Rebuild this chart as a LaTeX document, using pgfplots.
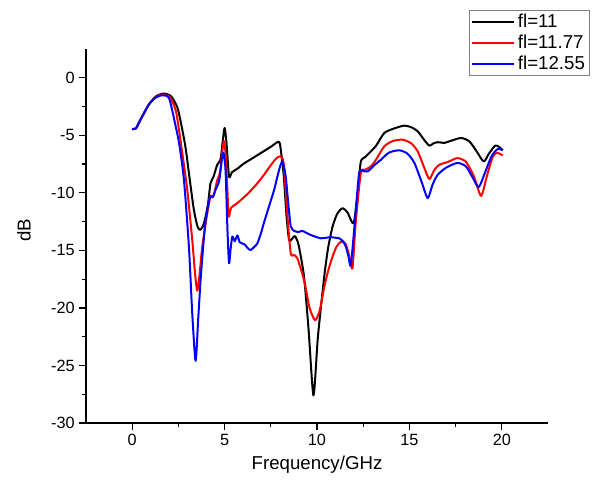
\documentclass[border=0pt]{standalone}
\usepackage{fontspec}
\setmainfont{Liberation Sans}
\usepackage{pgfplots}
\pgfplotsset{compat=1.18}

\begin{document}
\begin{tikzpicture}[x=1pt,y=1pt]
\begin{axis}[
    name=ax,
    scale only axis,
    width=346.5pt, height=280.5pt,
    xmin=-2.5, xmax=22.5, ymin=-30, ymax=2.5,
    axis lines=left, axis line style={-, line width=0.9pt},
    tick align=outside, tick style={line width=0.9pt, black},
    major tick length=5pt, minor tick length=3pt,
    xtick={0,5,...,20}, ytick={-30,-25,...,0},
    minor x tick num=1, minor y tick num=1,
    /pgf/number format/assume math mode=true,
    tick label style={font=\fontsize{12.2}{14}\selectfont},
    xlabel={Frequency/GHz}, ylabel={dB},
    every axis x label/.style={at={(rel axis cs:0.5,0)}, anchor=center, yshift=-31.5pt,
        font=\fontsize{14}{16}\selectfont},
    every axis y label/.style={at={(rel axis cs:0,0.5)}, anchor=center, rotate=90, yshift=46.5pt, xshift=4.5pt,
        font=\fontsize{14}{16}\selectfont},
    legend style={at={(rel axis cs:0.829,1.104)}, anchor=north west, draw=gray, line width=0.5pt,
        font=\fontsize{14}{16}\selectfont, inner sep=1pt, row sep=0pt},
    legend cell align=left,
    legend image code/.code={\draw[#1, line width=1.5pt] (0pt,0pt) -- (32pt,0pt);},
    every axis plot/.append style={line width=1.5pt, line join=round, smooth, tension=0.4},
  ]
  \addplot[black] coordinates {
    (0,-4.45) (0.2,-4.4) (0.45,-3.64) (0.9,-2.33) (1.3,-1.6) (1.7,-1.37) (2.1,-1.6) (2.45,-2.6)
    (2.71,-4.5) (2.9,-6.2) (3.07,-8.3) (3.34,-11.5) (3.55,-13.0) (3.70,-13.2) (3.85,-12.8) (3.97,-12.07)
    (4.1,-11.0) (4.24,-9.15) (4.4,-8.6) (4.6,-7.56) (4.78,-7.1) (4.9,-5.5) (5.0,-4.36) (5.1,-5.6)
    (5.24,-8.58) (5.4,-8.2) (5.7,-7.9) (6.0,-7.5) (6.5,-7.0) (7.0,-6.5) (7.5,-6.0) (7.86,-5.6)
    (8.0,-5.8) (8.2,-8.5) (8.35,-12.0) (8.49,-14.1) (8.65,-14.0) (8.8,-13.75) (9.0,-14.5) (9.3,-17.3)
    (9.55,-22.0) (9.81,-27.6) (10.05,-22.5) (10.39,-17.3) (10.6,-14.8) (10.84,-12.94) (11.1,-11.8)
    (11.38,-11.34) (11.65,-11.7) (11.98,-12.65) (12.2,-10.0) (12.37,-7.3) (12.6,-6.9) (12.83,-6.54)
    (13.2,-5.9) (13.64,-4.8) (14.18,-4.4) (14.72,-4.16) (15.1,-4.3) (15.45,-4.65) (15.8,-5.4)
    (16.08,-5.9) (16.3,-5.7) (16.53,-5.6) (16.9,-5.65) (17.3,-5.45) (17.8,-5.23) (18.24,-5.52)
    (18.6,-6.3) (19.02,-7.27) (19.3,-6.6) (19.64,-5.9) (19.85,-6.0) (20.05,-6.3)
  };
  \addlegendentry{fl=11}
  \addplot[red] coordinates {
    (0,-4.45) (0.2,-4.4) (0.45,-3.64) (0.9,-2.33) (1.3,-1.65) (1.68,-1.45) (2.05,-1.7) (2.35,-2.8)
    (2.53,-4.5) (2.75,-7.0) (2.98,-9.74) (3.25,-14.1) (3.4,-17.0) (3.52,-18.5) (3.65,-17.0) (3.79,-14.7)
    (4.06,-11.8) (4.24,-10.3) (4.4,-10.3) (4.6,-8.9) (4.75,-8.3) (4.87,-6.5) (4.97,-5.5) (5.07,-7.0)
    (5.2,-11.5) (5.24,-12.07) (5.35,-11.3) (5.6,-11.0) (5.9,-10.6) (6.3,-10.0) (6.7,-9.3) (7.1,-8.5)
    (7.5,-7.6) (7.8,-7.0) (8.04,-6.83) (8.2,-7.5) (8.4,-12.0) (8.58,-15.26) (8.75,-15.4) (8.94,-15.7)
    (9.3,-17.6) (9.6,-20.0) (9.9,-21.07) (10.15,-20.2) (10.39,-18.2) (10.6,-16.8) (10.84,-15.55)
    (11.05,-14.7) (11.29,-14.25) (11.54,-14.4) (11.75,-15.5) (11.92,-16.57) (12.1,-12.5) (12.37,-8.28)
    (12.6,-8.0) (12.92,-7.7) (13.2,-7.1) (13.64,-5.96) (14.1,-5.5) (14.63,-5.38) (15.1,-5.7)
    (15.45,-6.4) (15.8,-7.8) (16.08,-8.8) (16.35,-8.0) (16.62,-7.56) (17.1,-7.3) (17.6,-6.98)
    (18.06,-7.3) (18.5,-8.6) (18.88,-10.26) (19.2,-8.5) (19.5,-6.9) (19.7,-6.54) (19.9,-6.6) (20.05,-6.75)
  };
  \addlegendentry{fl=11.77}
  \addplot[blue] coordinates {
    (0,-4.45) (0.2,-4.4) (0.45,-3.64) (0.9,-2.33) (1.25,-1.75) (1.63,-1.52) (2.0,-1.8) (2.35,-4.2)
    (2.55,-5.8) (2.80,-8.87) (3.07,-14.7) (3.25,-20.5) (3.43,-24.6) (3.57,-21.0) (3.70,-17.6)
    (3.85,-14.5) (3.97,-12.4) (4.2,-10.4) (4.35,-10.4) (4.51,-9.74) (4.7,-9.0) (4.82,-7.5) (4.93,-6.5)
    (5.05,-8.0) (5.15,-13.0) (5.24,-16.1) (5.33,-14.8) (5.42,-13.8) (5.55,-14.2) (5.69,-13.7)
    (5.82,-14.3) (5.96,-14.4) (6.1,-14.5) (6.25,-14.8) (6.41,-14.97) (6.6,-14.7) (6.77,-14.4)
    (6.95,-13.6) (7.13,-12.6) (7.4,-11.2) (7.68,-9.74) (7.95,-8.0) (8.13,-7.27) (8.3,-8.5) (8.45,-11.0)
    (8.58,-12.9) (8.76,-13.3) (9.0,-13.4) (9.2,-13.3) (9.45,-13.5) (9.66,-13.66) (9.9,-13.8)
    (10.2,-13.95) (10.5,-13.9) (10.75,-13.85) (11.0,-13.9) (11.2,-13.95) (11.4,-14.2) (11.56,-14.68)
    (11.7,-15.5) (11.83,-16.28) (12.05,-12.5) (12.28,-8.28) (12.5,-8.1) (12.74,-8.14) (13.1,-7.6)
    (13.46,-7.12) (13.9,-6.5) (14.45,-6.3) (14.9,-6.6) (15.27,-7.4) (15.65,-9.0) (15.99,-10.46)
    (16.25,-9.3) (16.53,-8.43) (17.0,-7.8) (17.6,-7.4) (18.06,-7.7) (18.4,-8.6) (18.75,-9.5)
    (19.1,-8.2) (19.45,-6.8) (19.78,-6.19) (20.05,-6.3)
  };
  \addlegendentry{fl=12.55}
\end{axis}
\path (ax.south west) ++(-64.5pt,-45.75pt) coordinate (bl);
\path (ax.north east) ++(36pt,36.75pt) coordinate (tr);
\path (bl) rectangle (tr);
\end{tikzpicture}
\end{document}
